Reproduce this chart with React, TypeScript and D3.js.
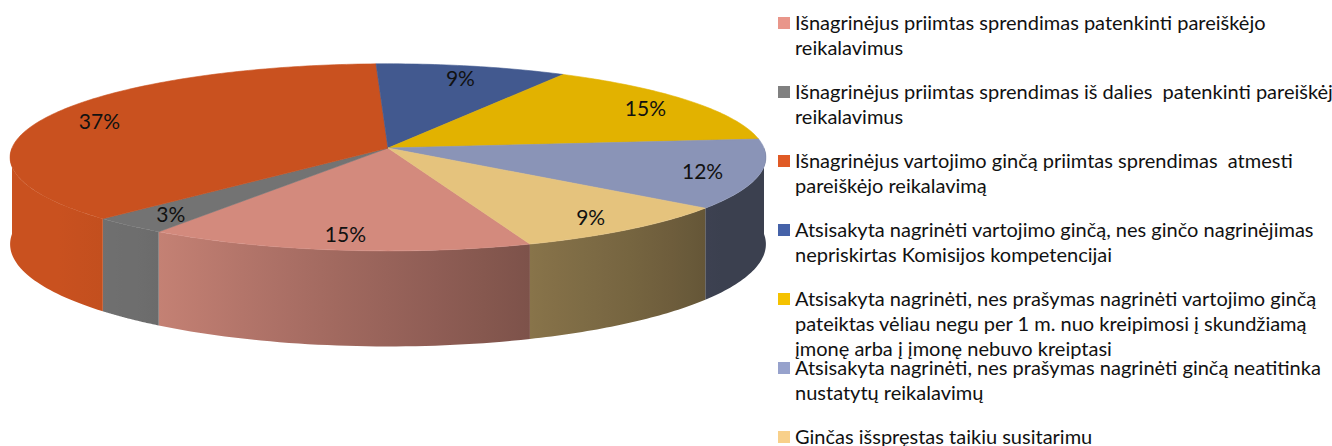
import React from "react";
import * as d3 from "d3";

const categories = [
  "Išnagrinėjus priimtas sprendimas patenkinti pareiškėjo reikalavimus",
  "Išnagrinėjus priimtas sprendimas iš dalies  patenkinti pareiškėjo reikalavimus",
  "Išnagrinėjus vartojimo ginčą priimtas sprendimas  atmesti pareiškėjo reikalavimą",
  "Atsisakyta nagrinėti vartojimo ginčą, nes ginčo nagrinėjimas nepriskirtas Komisijos kompetencijai",
  "Atsisakyta nagrinėti, nes prašymas nagrinėti vartojimo ginčą pateiktas vėliau negu per 1 m. nuo kreipimosi į skundžiamą įmonę arba į įmonę nebuvo kreiptasi",
  "Atsisakyta nagrinėti, nes prašymas nagrinėti ginčą neatitinka nustatytų reikalavimų",
  "Ginčas išspręstas taikiu susitarimu",
];

const legendLines: string[][] = [
  ["Išnagrinėjus priimtas sprendimas patenkinti pareiškėjo", "reikalavimus"],
  ["Išnagrinėjus priimtas sprendimas iš dalies  patenkinti pareiškėjo", "reikalavimus"],
  ["Išnagrinėjus vartojimo ginčą priimtas sprendimas  atmesti", "pareiškėjo reikalavimą"],
  ["Atsisakyta nagrinėti vartojimo ginčą, nes ginčo nagrinėjimas", "nepriskirtas Komisijos kompetencijai"],
  [
    "Atsisakyta nagrinėti, nes prašymas nagrinėti vartojimo ginčą",
    "pateiktas vėliau negu per 1 m. nuo kreipimosi į skundžiamą",
    "įmonę arba į įmonę nebuvo kreiptasi",
  ],
  ["Atsisakyta nagrinėti, nes prašymas nagrinėti ginčą neatitinka", "nustatytų reikalavimų"],
  ["Ginčas išspręstas taikiu susitarimu"],
];

const values = [15, 3, 37, 9, 15, 12, 9];
const labels = ["15%", "3%", "37%", "9%", "15%", "12%", "9%"];

const topColors = ["#D38A7D", "#737373", "#C9511F", "#42598F", "#E2B200", "#8A94B7", "#E5C37D"];
const legendColors = ["#E9968A", "#808080", "#E05A25", "#4562A8", "#F5C200", "#97A2CC", "#F8D08A"];

const W = 1332;
const H = 446;
// projection parameters (simple perspective of a tilted disc)
const cx = 388;
const apexY = 148;
const Sx = 376;
const Sy = 92.6;
const persp = 0.1;
const wallH = 86;
const startDeg = 160;

// shading of side wall by angle (degrees, 90..270)
const shadeAngles = [90, 125, 158, 217, 235, 270];
const shadeFactors = [0.43, 0.43, 0.58, 0.95, 1.0, 1.0];
const shade = d3.scaleLinear<number, number>().domain(shadeAngles).range(shadeFactors).clamp(true);

const proj = (a: number, r = 1, down = 0): [number, number] => {
  const w = 1 + persp * r * Math.cos(a);
  return [cx + (Sx * r * Math.sin(a)) / w, apexY - (Sy * r * Math.cos(a)) / w + down / w];
};

function scaleColor(c: string, f: number) {
  const r = d3.rgb(c);
  return d3.rgb(r.r * f, r.g * f, r.b * f).formatHex();
}

export default function App() {
  const start = (startDeg * Math.PI) / 180;
  const arcs = d3
    .pie<number>()
    .sort(null)
    .startAngle(start)
    .endAngle(start + 2 * Math.PI)(values);

  const line = d3.line<[number, number]>();
  const apex: [number, number] = [cx, apexY];

  const walls: { d: string; id: string; stops: { o: number; c: string }[]; x1: number; x2: number }[] = [];
  arcs.forEach((a, i) => {
    for (let k = 0; k < 2; k++) {
      const lo = Math.max(a.startAngle, Math.PI / 2 + 2 * Math.PI * k);
      const hi = Math.min(a.endAngle, (3 * Math.PI) / 2 + 2 * Math.PI * k);
      if (hi <= lo) continue;
      const n = 40;
      const ang = d3.range(n + 1).map((j) => lo + ((hi - lo) * j) / n);
      const topPts = ang.map((t) => proj(t));
      const botPts = ang.map((t) => proj(t, 1, wallH)).reverse();
      const d = line([...topPts, ...botPts])! + "Z";
      const xs = topPts.map((p) => p[0]);
      const x1 = Math.min(...xs);
      const x2 = Math.max(...xs);
      const stops = d3.range(9).map((j) => {
        const t = lo + ((hi - lo) * j) / 8;
        const x = proj(t)[0];
        const deg = ((t * 180) / Math.PI) % 360;
        return { o: x2 > x1 ? (x - x1) / (x2 - x1) : 0, c: scaleColor(topColors[i], shade(deg)) };
      });
      stops.sort((p, q) => p.o - q.o);
      walls.push({ d, id: `wg${i}_${k}`, stops, x1, x2 });
    }
  });

  const tops = arcs.map((a, i) => {
    const n = Math.max(8, Math.ceil(((a.endAngle - a.startAngle) * 180) / Math.PI));
    const pts = d3.range(n + 1).map((j) => proj(a.startAngle + ((a.endAngle - a.startAngle) * j) / n));
    return { d: line([apex, ...pts])! + "Z", c: topColors[i] };
  });

  const labelK = 0.85;
  const labelPos = arcs.map((a) => proj((a.startAngle + a.endAngle) / 2, labelK));

  const legendX = 778;
  const legendY0 = 17;
  const legendStep = 69;
  const lineH = 25;
  const sq = 12;

  return (
    <svg
      width={W}
      height={H}
      style={{ position: "absolute", left: 0, top: 0, background: "#fff" }}
      fontFamily="Lato, 'Open Sans', sans-serif"
    >
      <defs>
        {walls.map((w) => (
          <linearGradient key={w.id} id={w.id} gradientUnits="userSpaceOnUse" x1={w.x1} x2={w.x2} y1={0} y2={0}>
            {w.stops.map((s, j) => (
              <stop key={j} offset={s.o} stopColor={s.c} />
            ))}
          </linearGradient>
        ))}
      </defs>
      <g>
        {walls.map((w) => (
          <path key={w.id} d={w.d} fill={`url(#${w.id})`} />
        ))}
      </g>
      <g>
        {tops.map((t, i) => (
          <path key={i} d={t.d} fill={t.c} stroke={t.c} strokeWidth={0.6} />
        ))}
      </g>
      <g fontSize={21} fill="#111" textAnchor="middle">
        {labelPos.map((p, i) => (
          <text key={i} x={p[0]} y={p[1]} dominantBaseline="central">
            {labels[i]}
          </text>
        ))}
      </g>
      <g fontSize={20} fill="#111">
        {legendLines.map((ls, i) => {
          const y = legendY0 + legendStep * i;
          return (
            <g key={i}>
              <rect x={legendX} y={y} width={sq} height={sq} fill={legendColors[i]} />
              <text x={legendX + 17} y={y + 12.5} style={{ whiteSpace: "pre" }}>
                {ls.map((l, j) => (
                  <tspan key={j} x={legendX + 17} y={y + 12.5 + j * lineH}>
                    {l}
                  </tspan>
                ))}
              </text>
            </g>
          );
        })}
      </g>
    </svg>
  );
}
